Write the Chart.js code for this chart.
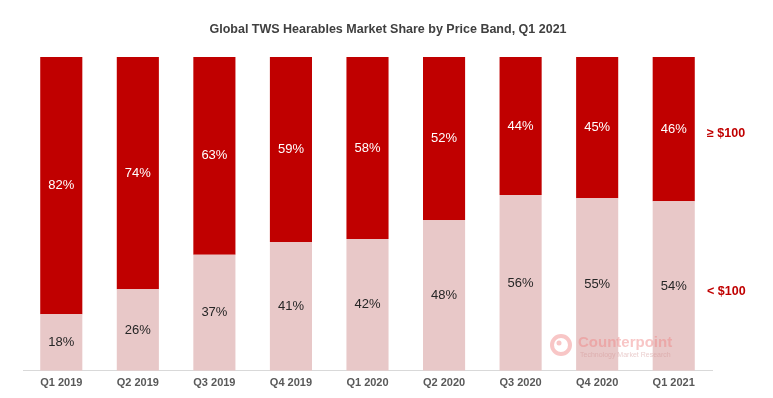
<!DOCTYPE html>
<html>
<head>
<meta charset="utf-8">
<script src="https://cdn.jsdelivr.net/npm/chart.js@4/dist/chart.umd.min.js"></script>
<style>
  html, body { margin: 0; padding: 0; background: #fff; }
  #wrap { width: 773px; height: 398px; }
</style>
</head>
<body>
<div id="wrap"><canvas id="shareChart" width="773" height="398"></canvas></div>
<script>
// quarters and share per price band (%)
const quarters = ['Q1 2019', 'Q2 2019', 'Q3 2019', 'Q4 2019', 'Q1 2020', 'Q2 2020', 'Q3 2020', 'Q4 2020', 'Q1 2021'];
const under100 = [18, 26, 37, 41, 42, 48, 56, 55, 54];
const over100 = [82, 74, 63, 59, 58, 52, 44, 45, 46];
const bandNames = ['< $100', '≥ $100'];
const chartTitle = 'Global TWS Hearables Market Share by Price Band, Q1 2021';

const darkRed = '#C00000';
const lightPink = '#E8C8C8';
const fontFam = '"Liberation Sans", Arial, sans-serif';

// title (centred on the page), % labels, band names and watermark
const labelPlugin = {
    id: 'segLabels',
    afterDatasetsDraw(chart) {
        const ctx = chart.ctx;
        ctx.save();
        ctx.textBaseline = 'middle';
        ctx.textAlign = 'center';

        ctx.font = 'bold 12.5px ' + fontFam;
        ctx.fillStyle = '#404040';
        ctx.fillText(chartTitle, 388, 30);

        ctx.font = '13px ' + fontFam;
        chart.data.datasets.forEach((ds, di) => {
            const meta = chart.getDatasetMeta(di);
            ctx.fillStyle = di === 1 ? '#FFFFFF' : '#262626';
            meta.data.forEach((bar, i) => {
                const y = (bar.y + bar.base) / 2;
                ctx.fillText(ds.data[i] + '%', bar.x, y);
            });
        });

        // band names next to the last bar
        const yScale = chart.scales.y;
        const last = quarters.length - 1;
        ctx.font = 'bold 12.5px ' + fontFam;
        ctx.fillStyle = darkRed;
        ctx.textAlign = 'left';
        ctx.fillText(bandNames[0], 707, yScale.getPixelForValue(under100[last] / 2) + 5);
        ctx.fillText(bandNames[1], 707, yScale.getPixelForValue(under100[last] + over100[last] / 2) + 4);

        // faint Counterpoint watermark
        ctx.globalAlpha = 0.45;
        ctx.strokeStyle = '#F08080';
        ctx.lineWidth = 4;
        ctx.beginPath();
        ctx.arc(561, 345, 9, 0, Math.PI * 2);
        ctx.stroke();
        ctx.fillStyle = '#F08080';
        ctx.beginPath();
        ctx.arc(559, 343, 2.5, 0, Math.PI * 2);
        ctx.fill();
        ctx.font = 'bold 15px ' + fontFam;
        ctx.fillText('Counterpoint', 578, 343);
        ctx.font = '7px ' + fontFam;
        ctx.fillStyle = '#D09090';
        ctx.fillText('Technology Market Research', 580, 355);
        ctx.restore();
    }
};

new Chart(document.getElementById('shareChart'), {
    type: 'bar',
    data: {
        labels: quarters,
        datasets: [
            {
                label: bandNames[0],
                data: under100,
                backgroundColor: lightPink,
                borderWidth: 0,
                barPercentage: 0.55,
                categoryPercentage: 1
            },
            {
                label: bandNames[1],
                data: over100,
                backgroundColor: darkRed,
                borderWidth: 0,
                barPercentage: 0.55,
                categoryPercentage: 1
            }
        ]
    },
    options: {
        responsive: false,
        animation: false,
        layout: {
            padding: { left: 23, right: 61, top: 57, bottom: 2 }
        },
        plugins: {
            legend: { display: false },
            tooltip: { enabled: false },
            title: { display: false }
        },
        scales: {
            x: {
                stacked: true,
                grid: { display: false, drawTicks: false },
                border: { color: '#D9D9D9', width: 1 },
                ticks: {
                    color: '#595959',
                    padding: 6,
                    font: { family: fontFam, size: 11, weight: 'bold' }
                }
            },
            y: {
                stacked: true,
                display: false,
                min: 0,
                max: 100
            }
        }
    },
    plugins: [labelPlugin]
});
</script>
</body>
</html>
